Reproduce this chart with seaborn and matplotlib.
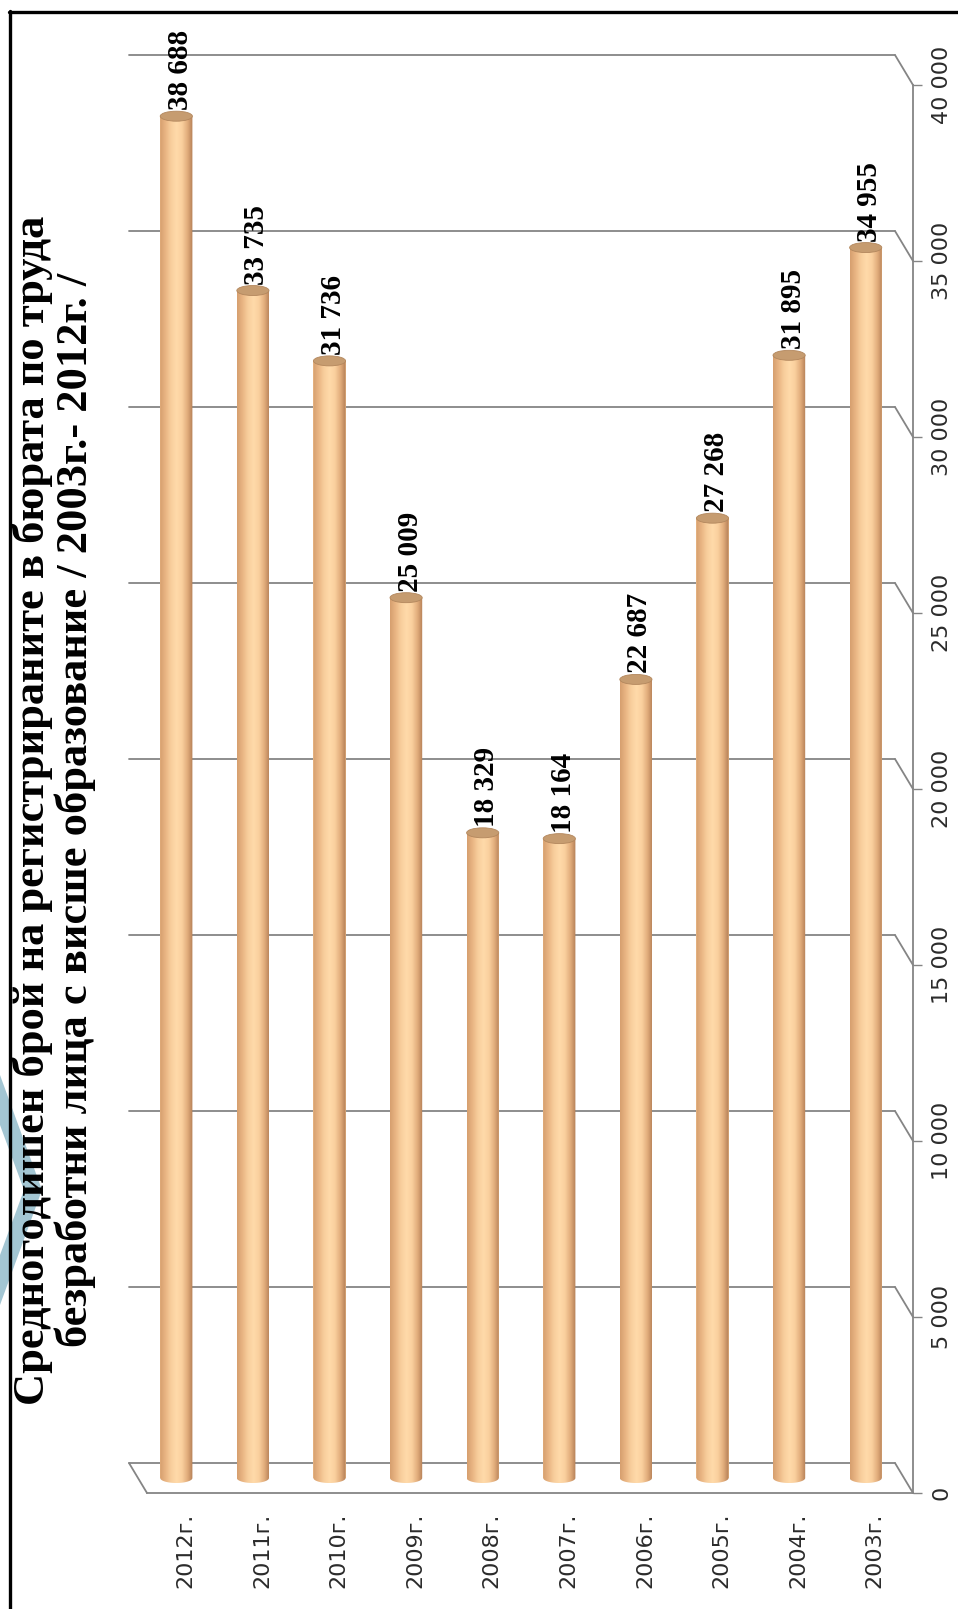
import numpy as np
import pandas as pd
import matplotlib
matplotlib.use("Agg")
import matplotlib.pyplot as plt
import seaborn as sns
from matplotlib.colors import LinearSegmentedColormap
from matplotlib.patches import Ellipse, PathPatch, Polygon, ConnectionPatch
from matplotlib.path import Path
from matplotlib.lines import Line2D
from matplotlib.ticker import FuncFormatter

# ---- data -------------------------------------------------------------
years = ["2012г.", "2011г.", "2010г.", "2009г.", "2008г.",
         "2007г.", "2006г.", "2005г.", "2004г.", "2003г."]
unemployed = [38688, 33735, 31736, 25009, 18329,
              18164, 22687, 27268, 31895, 34955]
value_ticks = [0, 5000, 10000, 15000, 20000, 25000, 30000, 35000, 40000]
title_lines = [
    "Средногодишен брой на регистрираните в бюрата по труда",
    "безработни лица с висше образование / 2003г.- 2012г. /",
]

df = pd.DataFrame({"year": years, "value": unemployed})

sns.set_style("white")
plt.rcParams["font.family"] = ["DejaVu Sans"]

W, H, DPI = 958, 1609, 100
fig = plt.figure(figsize=(W / DPI, H / DPI), dpi=DPI)
fig.patch.set_facecolor("white")

# plot box of the mid-depth plane (pixels, origin top-left)
left_px, right_px, top_px, base_px = 138, 904, 70, 1478
dx_px, dy_px = 9, 15          # half depth of the 3-D box
vmax = 40000
per_px = vmax / (base_px - top_px)   # data units per pixel
below_px = 24                      # extra room below the floor for round bottoms


def box(shift, extra_below=0):
    dx, dy = dx_px * shift, dy_px * shift
    bottom = base_px + dy + extra_below
    return [(left_px + dx) / W, (H - bottom) / H,
            (right_px - left_px) / W, (bottom - (top_px + dy)) / H]


grid_col = "#858585"
text_col = "#2b2b2b"

# ---- page decoration: blue chevron (behind everything) -----------------
chev = [(0, 1075), (42, 1190), (0, 1305), (0, 1255), (24, 1190), (0, 1125)]
fig.add_artist(Polygon([(x / W, 1 - y / H) for x, y in chev], closed=True,
                       transform=fig.transFigure, facecolor="#A3C6D3",
                       edgecolor="none", zorder=0))

# ---- back wall with gridlines -----------------------------------------
back = fig.add_axes(box(-1))
back.set_facecolor("none")
back.set_xlim(-0.5, 9.5)
back.set_ylim(0, vmax)
back.set_yticks(value_ticks)
back.set_xticks([])
back.yaxis.grid(True, color=grid_col, lw=1.3)
back.tick_params(left=False, labelleft=False, bottom=False, labelbottom=False)
for s in back.spines.values():
    s.set_visible(False)
for gl in back.get_ygridlines():
    gl.set_clip_on(False)

# ---- front axes: category axis and value axis -------------------------
front = fig.add_axes(box(+1))
front.set_facecolor("none")
front.set_xlim(-0.5, 9.5)
front.set_ylim(0, vmax)
for side in ("left", "top"):
    front.spines[side].set_visible(False)
for side in ("right", "bottom"):
    front.spines[side].set_color(grid_col)
    front.spines[side].set_linewidth(1.3)
front.yaxis.tick_right()
front.set_yticks(value_ticks)
front.yaxis.set_major_formatter(
    FuncFormatter(lambda v, p: f"{int(v):,}".replace(",", " ")))
front.tick_params(axis="y", direction="out", length=6.5, width=1.0,
                  color=grid_col, labelsize=16, labelcolor=text_col,
                  labelrotation=90, pad=7)
for t in front.get_yticklabels():
    t.set_verticalalignment("center")
front.set_xticks(range(len(years)))
front.set_xticklabels(years)
front.set_xticks(np.arange(-0.5, len(years), 1.0), minor=True)
front.tick_params(axis="x", which="major", length=0, labelsize=16,
                  labelcolor=text_col, labelrotation=90, pad=14)
front.tick_params(axis="x", which="minor", direction="out", length=6.5,
                  width=1.0, color=grid_col)

# depth connectors: right edge of every gridline, left edge of the floor
for v in value_ticks:
    fig.add_artist(ConnectionPatch(xyA=(9.5, v), coordsA=back.transData,
                                   xyB=(9.5, v), coordsB=front.transData,
                                   color=grid_col, lw=1.3))
fig.add_artist(ConnectionPatch(xyA=(-0.5, 0), coordsA=back.transData,
                               xyB=(-0.5, 0), coordsB=front.transData,
                               color=grid_col, lw=1.3))

# ---- cylinders --------------------------------------------------------
mid = fig.add_axes(box(0, below_px))
sns.barplot(data=df, x="year", y="value", order=years, width=0.42,
            color="#F6C995", saturation=1, linewidth=0, ax=mid, zorder=2)

cyl_cmap = LinearSegmentedColormap.from_list(
    "cyl", ["#D59E6E", "#E9B583", "#F8CE9C", "#FFDAAA", "#FAD09E",
            "#E2AD7C", "#B37E55"])
grad = np.linspace(0, 1, 256)[None, :]
cap_h = 10 * per_px

for patch in list(mid.patches):
    x0, w, v = patch.get_x(), patch.get_width(), patch.get_height()
    xc = x0 + w / 2
    th = np.linspace(np.pi, 2 * np.pi, 60)
    verts = ([(x0, v), (x0, 0)]
             + list(zip(xc + w / 2 * np.cos(th), cap_h / 2 * np.sin(th)))
             + [(x0 + w, 0), (x0 + w, v), (x0, v)])
    codes = [Path.MOVETO] + [Path.LINETO] * (len(verts) - 2) + [Path.CLOSEPOLY]
    body = PathPatch(Path(verts, codes), transform=mid.transData,
                     facecolor="none", edgecolor="none")
    mid.add_patch(body)
    im = mid.imshow(grad, cmap=cyl_cmap, extent=(x0, x0 + w, -cap_h, v),
                    aspect="auto", interpolation="bicubic", zorder=3)
    im.set_clip_path(body)
    mid.add_patch(Ellipse((xc, v), w, cap_h, facecolor="#C69C70",
                          edgecolor="#B3875D", lw=0.6, zorder=4))

for i, v in enumerate(unemployed):
    mid.annotate(f"{v:,}".replace(",", " "), xy=(i, v), xytext=(4, 6),
                 textcoords="offset pixels", rotation=90, ha="center",
                 va="bottom", fontsize=21, fontweight="bold",
                 family="Liberation Serif", color="black")

mid.set_xlim(-0.5, 9.5)
mid.set_ylim(-below_px * per_px, vmax)
mid.axis("off")

# ---- title ------------------------------------------------------------
fig.text(54 / W, 1 - 810 / H, "\n".join(title_lines), rotation=90,
         ha="center", va="center", multialignment="center", fontsize=32,
         fontweight="bold", family="Liberation Serif", color="black",
         linespacing=1.05, zorder=5)

# ---- frame ------------------------------------------------------------
fig.add_artist(Line2D([9.5 / W, 9.5 / W], [0, 1 - 11 / H],
                      transform=fig.transFigure, color="black", lw=2.4))
fig.add_artist(Line2D([8.5 / W, 1], [1 - 11.5 / H, 1 - 11.5 / H],
                      transform=fig.transFigure, color="black", lw=2.4))

fig.savefig("out.png", dpi=DPI, facecolor="white")
